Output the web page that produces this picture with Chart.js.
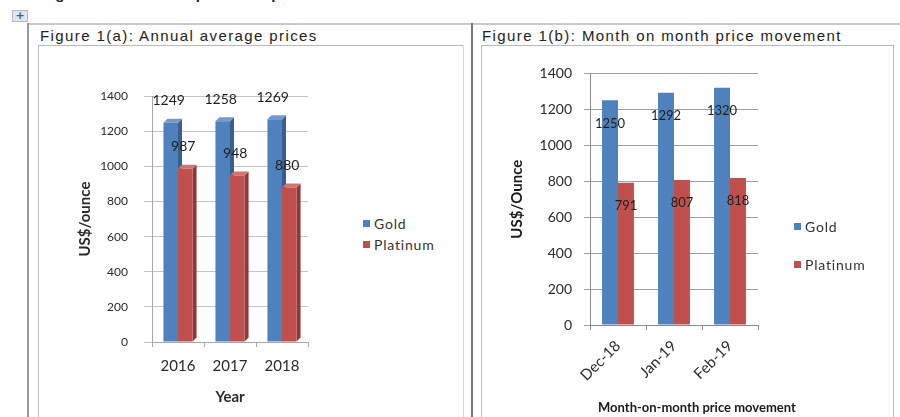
<!DOCTYPE html>
<html>
<head>
<meta charset="utf-8">
<script src="https://cdn.jsdelivr.net/npm/chart.js@4/dist/chart.umd.min.js"></script>
<style>
  body { margin: 0; width: 900px; height: 417px; overflow: hidden; background: #fff; position: relative; font-family: "Liberation Sans", Arial, sans-serif; }
  .ln { position: absolute; background: #b8b8b8; }
  .heading { position: absolute; left: 40px; top: -15px; font: bold 15px "Liberation Sans", Arial, sans-serif; color: #222; white-space: nowrap; letter-spacing: 1px; }
  .handle { position: absolute; left: 12px; top: 10px; width: 14px; height: 10px; background: #dfe6ef; border: 1px solid #b0bccc; color: #4a5a70; font: bold 11px/10px "DejaVu Sans", sans-serif; text-align: center; }
  .ptitle { position: absolute; top: 27px; font: 15px "Liberation Sans", Arial, sans-serif; letter-spacing: 1.4px; color: #222; white-space: nowrap; }
  canvas { position: absolute; }
  .lg { position: absolute; font: 14px Lato, sans-serif; letter-spacing: 0.8px; color: #333; white-space: nowrap; }
  .lg i { display: inline-block; width: 7px; height: 7px; margin-right: 4px; vertical-align: 2px; }
</style>
</head>
<body>
<div class="heading">Figure 1: Gold and platinum prices</div>
<div class="handle">+</div>

<!-- panel frames -->
<div class="ln" style="left:27px;top:23px;width:873px;height:2px;background:#c8c8c8"></div>
<div class="ln" style="left:27px;top:23px;width:2px;height:394px;background:#9a9a9a"></div>
<div class="ln" style="left:38px;top:45px;width:426px;height:1px"></div>
<div class="ln" style="left:38px;top:45px;width:1px;height:372px"></div>
<div class="ln" style="left:463px;top:45px;width:1px;height:372px;background:#d8d8d8"></div>
<div class="ln" style="left:471px;top:23px;width:2px;height:394px;background:#777"></div>
<div class="ln" style="left:481px;top:45px;width:413px;height:1px"></div>
<div class="ln" style="left:481px;top:45px;width:1px;height:372px"></div>
<div class="ln" style="left:893px;top:45px;width:1px;height:372px"></div>

<div class="ptitle" style="left:40px">Figure 1(a): Annual average prices</div>
<div class="ptitle" style="left:482px">Figure 1(b): Month on month price movement</div>

<canvas id="annual" width="260" height="337" style="left:60px;top:73px"></canvas>
<canvas id="monthly" width="310" height="364" style="left:490px;top:53px"></canvas>

<div id="legendA"></div>
<div id="legendB"></div>

<script>
// annual averages
const years = ['2016', '2017', '2018'];
const goldAnnual = [1249, 1258, 1269];
const platinumAnnual = [987, 948, 880];

// month on month
const months = ['Dec-18', 'Jan-19', 'Feb-19'];
const goldMonthly = [1250, 1292, 1320];
const platinumMonthly = [791, 807, 818];

const seriesNames = ['Gold', 'Platinum'];
const seriesColors = ['#4F81BD', '#C0504D'];
const sideColors = ['#395F8E', '#8D3A37'];
const topColors = ['#7099CC', '#D47471'];

const yMax = 1400;
const yStep = 200;

// value labels over / inside the bars
const valueLabels = {
  id: 'valueLabels',
  afterDatasetsDraw(chart, args, opts) {
    const ctx = chart.ctx;
    ctx.save();
    ctx.font = opts.size + 'px Lato, sans-serif';
    ctx.fillStyle = '#1e1e1e';
    ctx.textAlign = 'center';
    ctx.textBaseline = 'middle';
    chart.data.datasets.forEach((ds, i) => {
      chart.getDatasetMeta(i).data.forEach((bar, j) => {
        ctx.fillText(String(ds.data[j]), bar.x + opts.dx, bar.y + opts.dy);
      });
    });
    ctx.restore();
  }
};

// fake 3D depth: side and top faces behind the front faces
const barDepth = {
  id: 'barDepth',
  beforeDatasetsDraw(chart, args, opts) {
    const ctx = chart.ctx;
    const d = opts.dx, h = opts.dy;
    ctx.save();
    chart.data.datasets.forEach((ds, i) => {
      chart.getDatasetMeta(i).data.forEach((bar) => {
        const l = bar.x - bar.width / 2, r = bar.x + bar.width / 2;
        ctx.fillStyle = sideColors[i];
        ctx.beginPath();
        ctx.moveTo(r, bar.y);
        ctx.lineTo(r + d, bar.y - h);
        ctx.lineTo(r + d, bar.base - h);
        ctx.lineTo(r, bar.base);
        ctx.closePath();
        ctx.fill();
        ctx.fillStyle = topColors[i];
        ctx.beginPath();
        ctx.moveTo(l, bar.y);
        ctx.lineTo(l + d, bar.y - h);
        ctx.lineTo(r + d, bar.y - h);
        ctx.lineTo(r, bar.y);
        ctx.closePath();
        ctx.fill();
      });
    });
    ctx.restore();
  }
};

// x axis caption that may run past the plot's right edge
const xCaption = {
  id: 'xCaption',
  afterDraw(chart, args, opts) {
    const ctx = chart.ctx;
    ctx.save();
    ctx.font = 'bold ' + opts.size + 'px Lato, sans-serif';
    ctx.fillStyle = '#1a1a1a';
    ctx.textAlign = 'left';
    ctx.textBaseline = 'middle';
    ctx.fillText(opts.text, chart.chartArea.left + opts.dx, chart.height - opts.fromBottom);
    ctx.restore();
  }
};

function makeDatasets(a, b) {
  return [a, b].map((vals, i) => ({
    label: seriesNames[i],
    data: vals,
    backgroundColor: seriesColors[i],
    borderWidth: 0
  }));
}

function makeLegend(id, left, top, gap) {
  const box = document.getElementById(id);
  seriesNames.forEach((name, i) => {
    const el = document.createElement('div');
    el.className = 'lg';
    el.style.left = left + 'px';
    el.style.top = (top + i * gap) + 'px';
    el.innerHTML = '<i style="background:' + seriesColors[i] + '"></i>' + name;
    box.appendChild(el);
  });
}

const plainTick = (v) => String(v);
const font = (size, bold) => ({ family: 'Lato, sans-serif', size: size, weight: bold ? 'bold' : 'normal' });

new Chart(document.getElementById('annual'), {
  type: 'bar',
  data: { labels: years, datasets: makeDatasets(goldAnnual, platinumAnnual) },
  plugins: [barDepth, valueLabels],
  options: {
    responsive: false,
    animation: false,
    devicePixelRatio: 1,
    layout: { padding: { top: 6, right: 12, left: 0, bottom: 0 } },
    datasets: { bar: { categoryPercentage: 0.56, barPercentage: 1 } },
    plugins: {
      legend: { display: false },
      tooltip: { enabled: false },
      barDepth: { dx: 4, dy: 4 },
      valueLabels: { dx: -2, dy: -22, size: 14 }
    },
    scales: {
      x: {
        afterFit(scale) { scale.height = 68; },
        grid: { display: true, drawOnChartArea: false, offset: true, tickLength: 5, color: '#a8a8a8' },
        border: { color: '#a8a8a8' },
        ticks: { font: font(15), color: '#2a2a2a', padding: 10, maxRotation: 0 },
        title: { display: true, text: 'Year', font: font(15, true), color: '#2a2a2a', padding: { bottom: 4 } }
      },
      y: {
        min: 0,
        max: yMax,
        afterFit(scale) { scale.width = 92; },
        grid: { color: '#c4c4c4', tickLength: 8 },
        border: { color: '#a8a8a8' },
        ticks: { stepSize: yStep, callback: plainTick, font: font(12), color: '#2a2a2a', padding: 16 },
        title: { display: true, text: 'US$/ounce', font: font(15, true), color: '#2a2a2a', padding: { top: 16 } }
      }
    }
  }
});

new Chart(document.getElementById('monthly'), {
  type: 'bar',
  data: { labels: months, datasets: makeDatasets(goldMonthly, platinumMonthly) },
  plugins: [valueLabels, xCaption],
  options: {
    responsive: false,
    animation: false,
    devicePixelRatio: 1,
    layout: { padding: { top: 18, right: 42, left: 0, bottom: 0 } },
    datasets: { bar: { categoryPercentage: 0.57, barPercentage: 1 } },
    plugins: {
      legend: { display: false },
      tooltip: { enabled: false },
      valueLabels: { dx: 0, dy: 23, size: 13 },
      xCaption: { text: 'Month-on-month price movement', size: 13, dx: 8, fromBottom: 9 }
    },
    scales: {
      x: {
        afterFit(scale) { scale.height = 92; },
        grid: { display: true, drawOnChartArea: false, offset: true, tickLength: 5, color: '#8c8c8c' },
        border: { color: '#8c8c8c' },
        ticks: { font: font(15), color: '#2a2a2a', padding: 7, minRotation: 45, maxRotation: 45 }
      },
      y: {
        min: 0,
        max: yMax,
        afterFit(scale) { scale.width = 100; },
        grid: { color: '#a0a0a0', tickLength: 6 },
        border: { color: '#8c8c8c' },
        ticks: { stepSize: yStep, callback: plainTick, font: font(14), color: '#2a2a2a', padding: 12 },
        title: { display: true, text: 'US$/Ounce', font: font(15, true), color: '#1a1a1a', padding: { top: 18 } }
      }
    }
  }
});

makeLegend('legendA', 363, 215, 21);
makeLegend('legendB', 794, 218, 38);
</script>
</body>
</html>
